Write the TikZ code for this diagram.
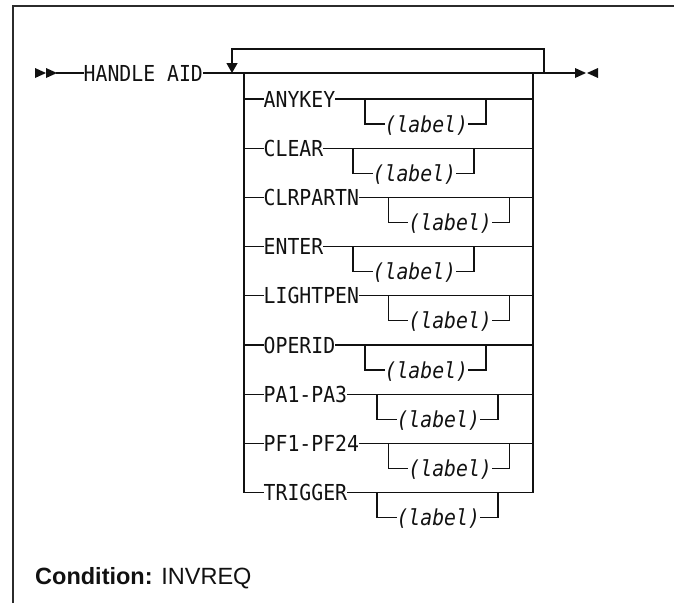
\documentclass[tikz,border=0pt]{standalone}
\usepackage{fontspec}
\setmonofont{DejaVu Sans Mono}[FakeStretch=0.9]
\setsansfont{Liberation Sans}
\usetikzlibrary{arrows.meta,positioning,calc}
\definecolor{rrInk}{HTML}{111111}
\definecolor{rrFrame}{HTML}{2B2B2B}
\tikzset{
    track/.style={line width=1.3pt, draw=rrInk, line cap=rect},
    kw/.style={font=\fontsize{22}{26}\selectfont\ttfamily, text=rrInk, inner xsep=0.5pt, inner ysep=0pt, text height=16pt, text depth=0pt, anchor=west},
    var/.style={kw, font=\fontsize{22}{26}\selectfont\ttfamily\itshape},
    tip/.style={fill=rrInk},
    frame/.style={line width=1.4pt, draw=rrFrame},
    cond/.style={font=\fontsize{23.5}{28}\selectfont\sffamily, text=rrInk, anchor=base west, inner sep=0pt}
}

\begin{document}
\begin{tikzpicture}[x=1pt, y=1pt]
    \useasboundingbox (0,0) rectangle (674,-603);
    \draw[frame] (13,-603) -- (13,-6) -- (674,-6);
    % ends of the main line
    \coordinate (start) at (57,-73);
    \coordinate (stop) at (575,-73);
    \fill[tip] (start) -- ++(-11,5) -- ++(0,-10) -- cycle;
    \fill[tip] ($(start)+(-11,0)$) -- ++(-11,5) -- ++(0,-10) -- cycle;
    \fill[tip] ($(stop)+(0,5)$) -- ++(11,-5) -- ++(-11,-5) -- cycle;
    \fill[tip] ($(stop)+(23,5)$) -- ++(-11,-5) -- ++(11,-5) -- cycle;
    \node[kw] (cmd) at (83,-73) {HANDLE AID};
    \draw[track] (start) -- (cmd.west);
    \draw[track] (cmd.east) -- (stop);
    % repeat loop over the choices
    \coordinate (rpt) at (232,-73);
    \coordinate (back) at (544,-73);
    \draw[track, line cap=butt, -{Triangle[width=11pt,length=10pt]}] (back) -- ++(0,24) -| (rpt);
    % choice block
    \coordinate (bl) at (244,-73);
    \coordinate (br) at (533,-73);
    \foreach \opt [count=\i] in {ANYKEY, CLEAR, CLRPARTN, ENTER, LIGHTPEN, OPERID, PA1-PA3, PF1-PF24, TRIGGER} {
        \coordinate (r\i) at ($(bl)+(0,-26-49.2*\i+49.2)$);
        \node[kw] (o\i) at ($(r\i)+(19,0)$) {\opt};
        \coordinate (a\i) at ($(o\i.east)+(29,0)$);
        \node[var] (l\i) at ($(a\i)+(19,-25)$) {(label)};
        \coordinate (z\i) at ($(a\i)+(121,0)$);
        \draw[track] (r\i) -- (o\i.west);
        \draw[track] (o\i.east) -- (r\i -| br);
        \draw[track] (a\i) |- (l\i.west);
        \draw[track] (l\i.east) -| (z\i);
    }
    \draw[track] (bl) -- (r9);
    \draw[track] (br) -- (r9 -| br);
    \node[cond] (cnd) at (35,-584) {\textbf{Condition:} INVREQ};
\end{tikzpicture}
\end{document}
